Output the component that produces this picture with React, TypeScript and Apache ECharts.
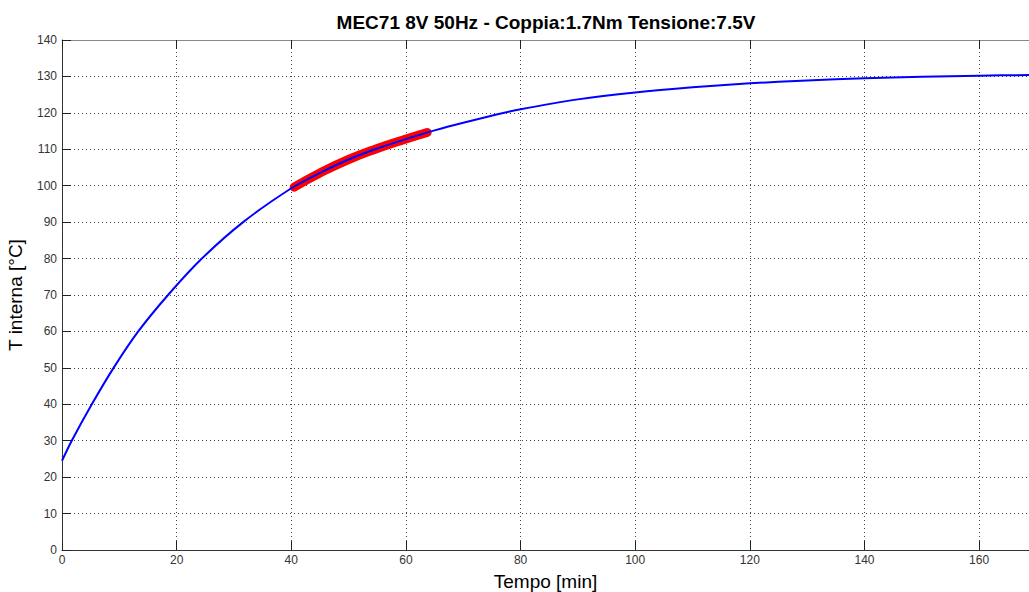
import React, { useEffect, useRef } from "react";
import * as echarts from "echarts";

const titleText = "MEC71 8V 50Hz - Coppia:1.7Nm Tensione:7.5V";
const xName = "Tempo [min]";
const yName = "T interna [°C]";

// Model curve (blue): time [min] and temperature [°C]
const modelTime = [0, 1.7, 5.2, 9.0, 13.3, 18.5, 24.4, 31.6, 40, 45, 50, 55, 60, 65, 70, 76, 80, 90, 100, 110, 120, 130, 140, 150, 160, 168.7];
const modelTemp = [24.5, 30, 40, 50, 60, 70, 80, 90, 99.3, 103.5, 107.2, 110.2, 112.8, 115.2, 117.3, 119.6, 121, 123.7, 125.6, 127, 128.1, 128.9, 129.5, 129.9, 130.2, 130.4];

// Measured data (red)
const measTime = [40.5, 45, 50, 55, 60, 63.7];
const measTemp = [99.6, 103.5, 107.2, 110.2, 112.8, 114.6];

const X_MAX = 168.7;

export default function App() {
  const ref = useRef<HTMLDivElement>(null);
  useEffect(() => {
    document.body.style.margin = "0";
    const chart = echarts.init(ref.current!, null, { renderer: "svg" });
    const font = "Arial, 'Liberation Sans', Helvetica, sans-serif";
    const splitLine = { show: true, lineStyle: { color: "#444", type: [1, 3] as any, width: 1 } };
    chart.setOption({
      animation: false,
      backgroundColor: "#fff",
      title: {
        text: titleText,
        left: 541,
        top: 8,
        textAlign: "center",
        textStyle: { fontFamily: font, fontSize: 19, fontWeight: "bold", color: "#000" },
      },
      grid: { left: 62, top: 40, right: 0, bottom: 42, containLabel: false, outerBoundsMode: "none" },
      xAxis: [
        {
          type: "value",
          min: 0,
          max: X_MAX,
          interval: 20,
          position: "bottom",
          name: xName,
          nameLocation: "middle",
          nameGap: 22,
          nameTextStyle: { fontFamily: font, fontSize: 19, color: "#000" },
          axisLine: { show: true, lineStyle: { color: "#333", width: 1 } },
          axisTick: { show: true, inside: true, length: 9, lineStyle: { color: "#222" } },
          axisLabel: { fontFamily: font, fontSize: 12, color: "#333", margin: 4, showMaxLabel: false },
          splitLine,
        },
        {
          type: "value",
          min: 0,
          max: X_MAX,
          interval: 20,
          position: "top",
          axisLine: { show: true, onZero: false, lineStyle: { color: "#888", width: 1 } },
          axisTick: { show: true, inside: true, length: 9, lineStyle: { color: "#222" } },
          axisLabel: { show: false },
          splitLine: { show: false },
        },
      ],
      yAxis: {
        type: "value",
        min: 0,
        max: 140,
        interval: 10,
        name: yName,
        nameLocation: "middle",
        nameGap: 37,
        nameTextStyle: { fontFamily: font, fontSize: 19, color: "#000" },
        axisLine: { show: true, lineStyle: { color: "#333", width: 1 } },
        axisTick: { show: true, inside: true, length: 9, lineStyle: { color: "#222" } },
        axisLabel: { fontFamily: font, fontSize: 12, color: "#333", margin: 5 },
        splitLine,
      },
      series: [
        {
          type: "line",
          name: "misura",
          data: measTime.map((t, i) => [t, measTemp[i]]),
          showSymbol: false,
          smooth: true,
          lineStyle: { color: "#ff0000", width: 9, cap: "round" },
          z: 2,
        },
        {
          type: "line",
          name: "modello",
          data: modelTime.map((t, i) => [t, modelTemp[i]]),
          showSymbol: false,
          smooth: 0.3,
          lineStyle: { color: "#0000ff", width: 2 },
          z: 3,
        },
      ],
    });
    return () => chart.dispose();
  }, []);
  return <div ref={ref} style={{ width: 1029, height: 592, position: "absolute", left: 0, top: 0 }} />;
}
